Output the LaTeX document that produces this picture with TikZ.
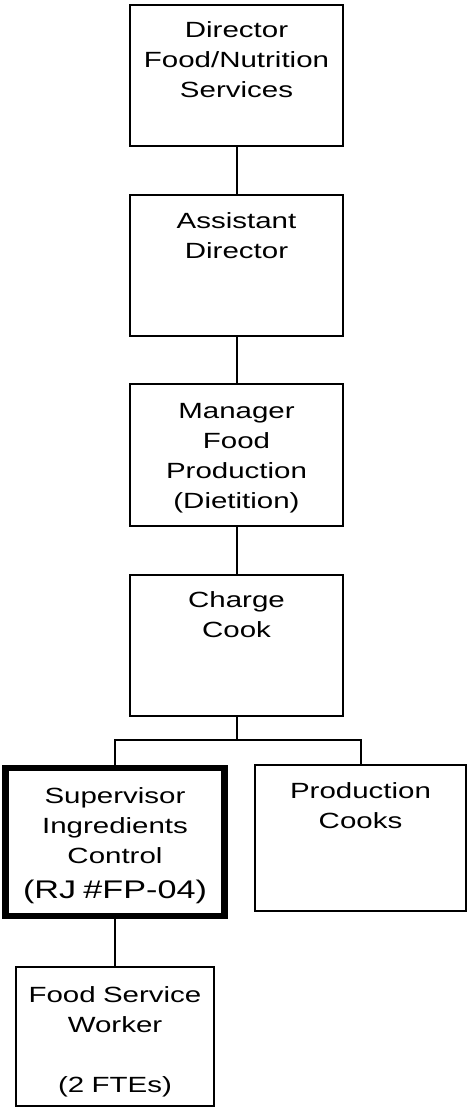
\documentclass[tikz,border=0pt]{standalone}
\usepackage{fontspec}
\setmainfont{Liberation Sans}[FakeStretch=1.34]

\begin{document}
\begin{tikzpicture}[x=1pt, y=1pt]
    \tikzset{box/.style={
      draw,
      line width=2pt,
      inner sep=0pt,
      outer sep=0pt,
      anchor=north,
      text width=213pt,
      align=center,
      text height=33pt,
      font=\fontsize{22}{30}\selectfont}}
    \useasboundingbox (0, 0) rectangle (468, -1110);
    \node[box, text depth=108pt] at (236.5, -5) (dir) {Director\\ Food/Nutrition\\ Services};
    \node[box, text depth=108pt] at (236.5, -195) (asst) {Assistant\\ Director};
    \node[box, text depth=108pt, text height=34pt] at (236.5, -384) (mgr) {Manager\\ Food\\ Production\\ (Dietition)};
    \node[box, text depth=109pt, text height=32pt] at (236.5, -575) (cook) {Charge\\ Cook};
    \node[box, line width=6.5pt, text width=219pt, text height=35pt, text depth=113pt] at (115, -768) (sup) {Supervisor\\ Ingredients\\ Control\\[5pt] {\fontsize{25.5}{35}\selectfont (RJ \#FP-04)}};
    \node[box, text width=211pt, text depth=113pt] at (360.5, -765) (cooks) {Production\\ Cooks};
    \node[box, text width=198pt, text height=35pt, text depth=104pt] at (115, -967) (fsw) {Food Service\\ Worker\\[30pt] (2 FTEs)};
    \coordinate (split) at (236.5, -740);
    \draw[line width=2pt] (dir) -- (asst);
    \draw[line width=2pt] (asst) -- (mgr);
    \draw[line width=2pt] (mgr) -- (cook);
    \draw[line width=2pt] (cook) -- (split);
    \draw[line width=2pt] (split) -| (sup.north);
    \draw[line width=2pt] (split) -| (cooks.north);
    \draw[line width=2pt] (sup) -- (fsw);
  \end{tikzpicture}
\end{document}
